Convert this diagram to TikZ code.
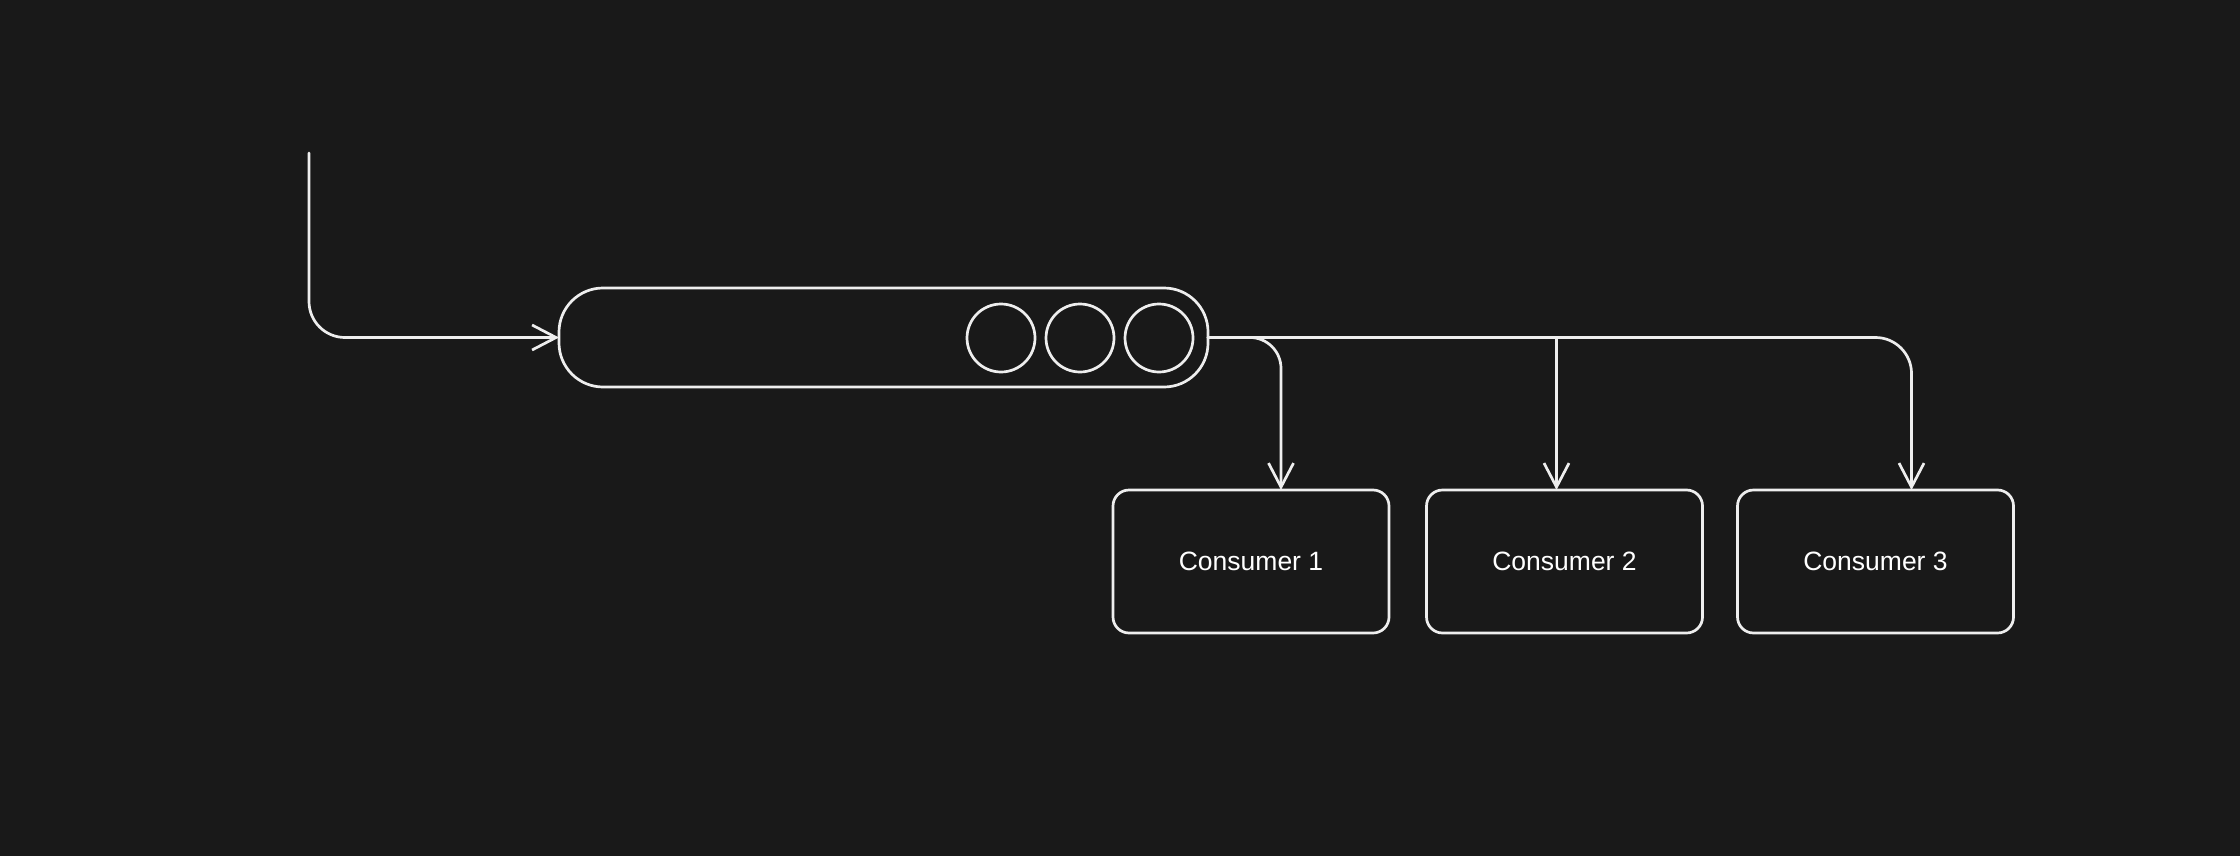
\documentclass[tikz,border=0pt]{standalone}
\usepackage{fontspec}
\setmainfont{Liberation Sans}
\usetikzlibrary{arrows.meta,calc}
\definecolor{bgc}{HTML}{191919}
\definecolor{ink}{HTML}{EEEEEE}
\tikzset{
  stroke/.style={draw=ink, line width=2.7pt, line cap=round, line join=round},
  conn/.style={stroke, -{Straight Barb[length=24pt,width=25pt,line width=2.7pt]}},
  pill/.style={stroke, rounded corners=44pt, minimum width=649pt, minimum height=99pt, inner sep=0pt, outer sep=0pt},
  dot/.style={stroke, circle, minimum size=68pt, inner sep=0pt, outer sep=0pt},
  consbox/.style={stroke, rounded corners=16pt, minimum width=276pt, minimum height=143pt, inner sep=0pt, outer sep=0pt,
    text=white, font=\fontsize{26.5}{32}\selectfont},
}
\begin{document}
\begin{tikzpicture}[x=1pt,y=-1pt]
  \fill[bgc] (0,0) rectangle (2240,856);
  \useasboundingbox (0,0) rectangle (2240,856);
  \node[pill] (queue) at (883.5,337.5) {};
  \node[dot] (d1) at (1001,338) {};
  \node[dot] (d2) at (1080,338) {};
  \node[dot] (d3) at (1159,338) {};
  \node[consbox] (c1) at (1251,561.5) {Consumer 1};
  \node[consbox] (c2) at (1564.5,561.5) {Consumer 2};
  \node[consbox] (c3) at (1875.5,561.5) {Consumer 3};
  \coordinate (src) at (309,153);
  \draw[conn, rounded corners=36pt] (src) |- (queue.west);
  \draw[conn, rounded corners=36pt] (queue.east) -| ([xshift=36pt]c3.north);
  \draw[conn, rounded corners=31pt] (queue.east) -| ([xshift=30pt]c1.north);
  \draw[conn] ([xshift=-8pt]c2.north |- queue.east) -- ([xshift=-8pt]c2.north);
\end{tikzpicture}
\end{document}
